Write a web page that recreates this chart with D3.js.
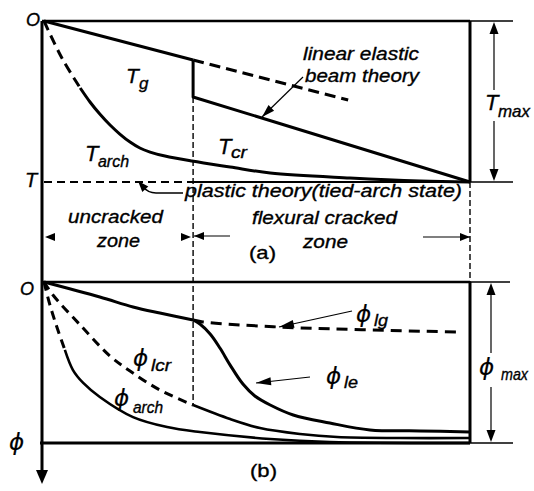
<!DOCTYPE html>
<html>
<head>
<meta charset="utf-8">
<script src="https://cdn.jsdelivr.net/npm/d3@7/dist/d3.min.js"></script>
<style>
  html, body { margin: 0; padding: 0; background: #fff; }
  svg { display: block; }
  text { font-family: "Liberation Sans", Arial, sans-serif; fill: #000; stroke: #000; stroke-width: 0.35px; }
  text.phi { font-family: "DejaVu Sans", sans-serif; stroke-width: 0.2px; }
</style>
</head>
<body>
<svg id="chart" width="534" height="491"></svg>
<script>
// ---------------- DATA (normalised: x = position along span 0..100, y = depth 0..100) -------------
const crackX = 35;
// panel (a)
const tgLine      = [[0, 0], [35, 24.2]];
const tgExtension = [[35, 24.2], [71.4, 49.1]];
const tcrLine     = [[35, 24.2], [35, 47.2], [100, 100]];
const tarchDashed = [[0, 0], [4.2, 23], [8.5, 41.6]];
const tarchSolid  = [[8.5, 41.6], [10.8, 50.3], [13.1, 57.8], [15.5, 64.6], [17.8, 70.2], [20.2, 75.2],
                     [22.5, 78.9], [24.9, 81.4], [28.4, 83.9], [34.7, 87.0], [43.7, 90.7], [53.1, 94.4],
                     [71.8, 97.5], [88.3, 99.4], [100, 100]];
// panel (b)
const philgSolid  = [[0, 0], [13.1, 9.3], [20.9, 15.5], [27.2, 19.3], [35, 23.6]];
const philgDashed = [[35, 23.6], [37.3, 24.8], [55.4, 28.0], [97.7, 31.1]];
const phile       = [[35, 23.6], [36.6, 26.1], [39.0, 32.3], [41.3, 41.0], [43.7, 51.6], [46.7, 63.4], [49.5, 70.8],
                     [53.1, 76.4], [58.5, 82.6], [67.1, 87.6], [76.5, 91.9], [88.3, 92.5], [100, 93.2]];
const philcrDashed= [[0, 0], [2.1, 8.1], [8.5, 26.7], [15.5, 46.0], [20.2, 55.3], [27.2, 67.1], [35, 76.4]];
const philcrSolid = [[35, 76.4], [43.7, 85.1], [50.7, 90.7], [60.1, 94.4], [68.8, 96.3], [83.6, 96.9], [100, 96.9]];
const phiarchDashed = [[0, 0], [1.4, 14.3], [3.1, 28.6], [4.9, 42.2]];
const phiarchSolid  = [[4.9, 42.2], [6.8, 54.7], [9.2, 62.7], [13.1, 71.4], [20.9, 83.9], [28.9, 90.1],
                       [36.6, 93.2], [53.1, 97.5], [67.1, 99.4], [100, 100]];
// texts
const zoneLabels = ["uncracked", "zone", "flexural cracked", "zone"];
const PHI = "\u03D5";

// ---------------- SCALES ----------------
const svg = d3.select("#chart");
svg.append("rect").attr("width", 534).attr("height", 491).attr("fill", "#fff");

const x  = d3.scaleLinear().domain([0, 100]).range([44, 470]);
const ya = d3.scaleLinear().domain([0, 100]).range([21, 182]);
const yb = d3.scaleLinear().domain([0, 100]).range([282, 443]);

function path(data, ys, opts) {
  const gen = d3.line().x(d => x(d[0])).y(d => ys(d[1]))
    .curve(opts.curve || d3.curveLinear);
  svg.append("path").attr("d", gen(data))
    .attr("fill", "none").attr("stroke", "#000")
    .attr("stroke-width", opts.w || 3)
    .attr("stroke-linecap", opts.cap || "butt")
    .attr("stroke-linejoin", "round")
    .attr("stroke-dasharray", opts.dash || null);
}
function seg(x1, y1, x2, y2, w, dash) {
  svg.append("line").attr("x1", x1).attr("y1", y1).attr("x2", x2).attr("y2", y2)
    .attr("stroke", "#000").attr("stroke-width", w).attr("stroke-dasharray", dash || null);
}
function head(tx, ty, fx, fy, len, wid) {
  const dx = tx - fx, dy = ty - fy, L = Math.hypot(dx, dy);
  const ux = dx / L, uy = dy / L;
  const bx = tx - ux * len, by = ty - uy * len;
  const px = -uy * wid / 2, py = ux * wid / 2;
  svg.append("path").attr("d", `M${tx},${ty}L${bx + px},${by + py}L${bx - px},${by - py}Z`).attr("fill", "#000");
}
function arrow(fx, fy, tx, ty, w, len, wid) {
  seg(fx, fy, tx, ty, w);
  head(tx, ty, fx, fy, len, wid);
}
function txt(s, px, py, size, opts) {
  opts = opts || {};
  const t = svg.append("text").attr("x", px).attr("y", py).attr("font-size", size)
    .attr("font-style", opts.upright ? "normal" : "italic").text(s);
  if (s === PHI) t.attr("class", "phi");
  if (opts.len) t.attr("textLength", opts.len).attr("lengthAdjust", "spacingAndGlyphs");
  if (opts.anchor) t.attr("text-anchor", opts.anchor);
  return t;
}
function lab(main, sub, px, py, size, subSize, subDx, subDy, mainLen, subLen) {
  txt(main, px, py, size, { len: mainLen });
  txt(sub, px + subDx, py + subDy, subSize, { len: subLen });
}

// ---------------- FRAME ----------------
const X1 = x(100);
seg(42, ya(0), 42, 471, 3);
svg.append("path").attr("d", "M36,470L48,470L42,484Z").attr("fill", "#000");
// panel (a)
seg(42, ya(0), X1, ya(0), 2.6);
seg(X1, ya(0), 513, ya(0), 1.5);
seg(X1, ya(0), X1, ya(100), 3);
seg(44, ya(100), x(crackX), ya(100), 2, "8,5");
seg(x(crackX), ya(100), X1, ya(100), 2);
seg(X1, ya(100), 513, ya(100), 1.5);
// crack line and right boundary (dashed, thin)
seg(x(crackX), ya(47.2), x(crackX), yb(76.4), 1.4, "6,3");
seg(X1, ya(100), X1, yb(0), 1.4, "6,3");
// panel (b)
seg(42, yb(0), X1, yb(0), 2.6);
seg(X1, yb(0), 510, yb(0), 1.3);
seg(X1, yb(0), X1, yb(100), 3);
seg(40, yb(100), X1, yb(100), 3);
seg(X1, yb(100), 513, yb(100), 1.5);

// ---------------- CURVES (a) ----------------
path(tgLine, ya, { w: 3 });
path(tgExtension, ya, { w: 3, dash: "11,6" });
path(tcrLine, ya, { w: 3 });
path(tarchDashed, ya, { w: 3, dash: "10,6", curve: d3.curveCatmullRom });
path(tarchSolid, ya, { w: 3, curve: d3.curveCatmullRom });

// ---------------- CURVES (b) ----------------
path(philgSolid, yb, { w: 3, curve: d3.curveCatmullRom });
path(philgDashed, yb, { w: 3, dash: "11,7", curve: d3.curveCatmullRom });
path(phile, yb, { w: 3, curve: d3.curveCatmullRom });
path(philcrDashed, yb, { w: 3, dash: "9,6", curve: d3.curveCatmullRom });
path(philcrSolid, yb, { w: 2.6, curve: d3.curveCatmullRom });
path(phiarchDashed, yb, { w: 3, dash: "9,6", curve: d3.curveCatmullRom });
path(phiarchSolid, yb, { w: 2.6, curve: d3.curveCatmullRom });

// ---------------- DIMENSION ARROWS ----------------
seg(494, 32, 494, 90, 1.2);
seg(494, 121, 494, 171, 1.2);
head(494, ya(0) + 1, 494, 40, 12, 9);
head(494, ya(100) - 1, 494, 160, 12, 9);
lab("T", "max", 485, 110, 22, 17, 13, 7, null, 32);
seg(491, 293, 491, 353, 1.2);
seg(491, 387, 491, 432, 1.2);
head(491, yb(0) + 1, 491, 300, 12, 9);
head(491, yb(100) - 1, 491, 420, 12, 9);
lab(PHI, "max", 479, 375, 23, 17, 22, 5, null, 27);

// ---------------- LEADERS ----------------
arrow(303, 77, 262, 117, 1.2, 13, 8);
svg.append("path").attr("d", "M183,193L156,193Q148,193,142,186").attr("fill", "none")
  .attr("stroke", "#000").attr("stroke-width", 1.3);
head(138, 181, 146, 190, 11, 8);
arrow(352, 311, 279, 327, 1.2, 15, 8);
arrow(310, 377, 256, 383, 1.2, 15, 8);
head(45, 237, 60, 237, 10, 8);
head(191, 237, 175, 237, 10, 8);
arrow(230, 236, 194, 236, 1.2, 10, 8);
arrow(423, 237, 470, 237, 1.2, 10, 8);

// ---------------- TEXT ----------------
txt("O", 26, 26, 18);
txt("T", 25, 187, 20);
txt("O", 20, 295, 18);
txt(PHI, 9, 450, 23);

txt("linear elastic", 303, 60, 18.5, { len: 116 });
txt("beam theory", 305, 82, 18.5, { len: 114 });
txt("plastic theory(tied-arch state)", 185, 197, 18.5, { len: 277 });
txt(zoneLabels[0], 68, 223, 18.5, { len: 95 });
txt(zoneLabels[1], 97, 247, 18.5, { len: 43 });
txt(zoneLabels[2], 252, 224, 18.5, { len: 145 });
txt(zoneLabels[3], 303, 248, 18.5, { len: 45 });
txt("(a)", 249, 259, 19, { upright: true, len: 27 });
txt("(b)", 250, 477, 19, { upright: true, len: 27 });

lab("T", "g", 126, 83, 21, 17, 13, 6, null, null);
lab("T", "cr", 218, 154, 22, 16, 13, 4, null, 16);
lab("T", "arch", 85, 161, 22, 16, 13, 6, null, 31);
lab(PHI, "lg", 356, 322, 23, 16, 18, 4, null, 14);
lab(PHI, "le", 326, 384, 23, 16, 18, 4, null, 14);
lab(PHI, "lcr", 133, 366, 23, 16, 18, 5, null, 20);
lab(PHI, "arch", 114, 406, 23, 16, 19, 7, null, 30);
</script>
</body>
</html>
